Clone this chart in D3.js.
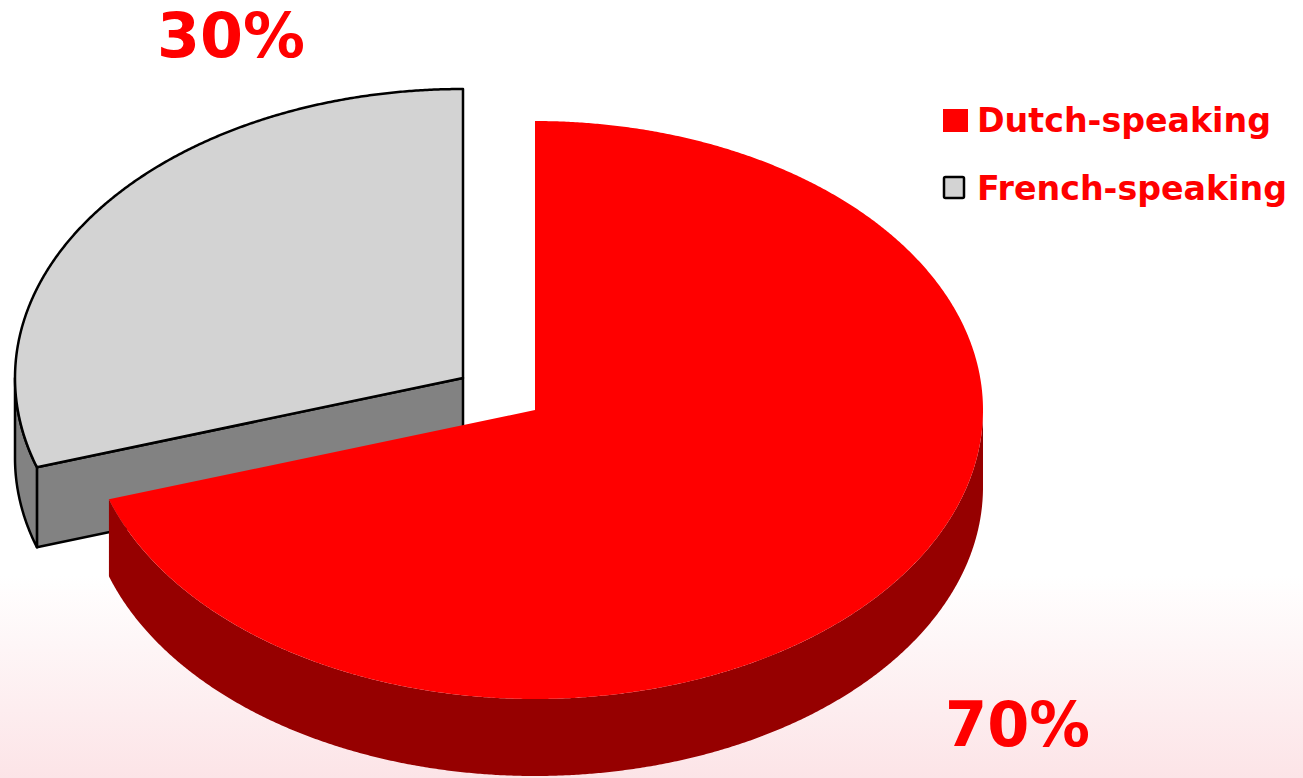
<!DOCTYPE html>
<html>
<head>
<meta charset="utf-8">
<script src="https://cdn.jsdelivr.net/npm/d3@7"></script>
<style>
html,body{margin:0;padding:0;background:#fff;}
svg{display:block;}
</style>
</head>
<body>
<svg id="chart" width="1303" height="778"></svg>
<script>
const categories = ["Dutch-speaking", "French-speaking"];
const values = [70, 30];
const valueLabels = ["70%", "30%"];

const topColors = ["#FF0000", "#D3D3D3"];
const sideColors = ["#960000", "#828282"];
const strokes = ["none", "#000"];

const W = 1303, H = 778;
const svg = d3.select("#chart");

// background
const defs = svg.append("defs");
const grad = defs.append("linearGradient").attr("id", "bg").attr("x1", 0).attr("y1", 0).attr("x2", 0).attr("y2", 1);
grad.append("stop").attr("offset", "0").attr("stop-color", "#ffffff");
grad.append("stop").attr("offset", "0.74").attr("stop-color", "#ffffff");
grad.append("stop").attr("offset", "1").attr("stop-color", "#fce4e7");
svg.append("rect").attr("width", W).attr("height", H).attr("fill", "url(#bg)");

// pie geometry
const rx = 448, ry = 289;
const centers = [{x: 535, y: 410}, {x: 463, y: 378}];
const depths = [77, 80];

const pie = d3.pie().sort(null).value(d => d);
const arcs = pie(values);

function pt(c, a, dy) { return [c.x + rx * Math.sin(a), c.y - ry * Math.cos(a) + (dy || 0)]; }
function arcPts(c, a0, a1, dy) {
  const n = Math.max(2, Math.ceil(Math.abs(a1 - a0) / 0.005));
  return d3.range(n + 1).map(i => pt(c, a0 + (a1 - a0) * i / n, dy));
}
const line = d3.line();

function drawSlice(i) {
  const a = arcs[i], c = centers[i], dep = depths[i];
  const g = svg.append("g");
  const st = strokes[i];
  const sw = st === "none" ? 0 : 2.5;
  // radial faces
  [[a.startAngle, a.startAngle - Math.PI / 2], [a.endAngle, a.endAngle + Math.PI / 2]].forEach(([ang, n]) => {
    if (Math.cos(n) < -1e-6) {
      const p = pt(c, ang);
      const poly = [[c.x, c.y], p, [p[0], p[1] + dep], [c.x, c.y + dep]];
      g.append("path").attr("d", line(poly) + "Z")
        .attr("fill", sideColors[i]).attr("stroke", st).attr("stroke-width", sw).attr("stroke-linejoin", "round");
    }
  });
  // outer wall (front half only)
  const w0 = Math.max(a.startAngle, Math.PI / 2), w1 = Math.min(a.endAngle, 3 * Math.PI / 2);
  if (w1 > w0) {
    const pts = arcPts(c, w0, w1, 0).concat(arcPts(c, w1, w0, dep));
    g.append("path").attr("d", line(pts) + "Z")
      .attr("fill", sideColors[i]).attr("stroke", st).attr("stroke-width", sw).attr("stroke-linejoin", "round");
  }
  // top face
  const topPts = [[c.x, c.y]].concat(arcPts(c, a.startAngle, a.endAngle, 0));
  g.append("path").attr("d", line(topPts) + "Z")
    .attr("fill", topColors[i]).attr("stroke", st).attr("stroke-width", sw).attr("stroke-linejoin", "round");
}
drawSlice(1);
drawSlice(0);

// value labels
const labelPos = [{x: 945, y: 746}, {x: 157, y: 57}];
valueLabels.forEach((t, i) => {
  svg.append("text").attr("x", labelPos[i].x).attr("y", labelPos[i].y)
    .attr("font-family", "DejaVu Sans").attr("font-weight", "bold").attr("font-size", 62)
    .attr("textLength", i === 0 ? 145 : 148).attr("lengthAdjust", "spacingAndGlyphs")
    .attr("fill", "#FF0000").text(t);
});

// legend
const legend = svg.append("g");
const legY = [132, 200];
const legW = [294, 310];
categories.forEach((name, i) => {
  if (i === 0) {
    legend.append("rect").attr("x", 943).attr("y", 109).attr("width", 25).attr("height", 23).attr("fill", topColors[0]);
  } else {
    legend.append("rect").attr("x", 944).attr("y", 177).attr("width", 20).attr("height", 21).attr("rx", 1.5)
      .attr("fill", topColors[1]).attr("stroke", "#000").attr("stroke-width", 2.5);
  }
  legend.append("text").attr("x", 977).attr("y", legY[i])
    .attr("font-family", "DejaVu Sans").attr("font-weight", "bold").attr("font-size", 34)
    .attr("textLength", legW[i]).attr("lengthAdjust", "spacingAndGlyphs")
    .attr("fill", "#FF0000").text(name);
});
</script>
</body>
</html>
